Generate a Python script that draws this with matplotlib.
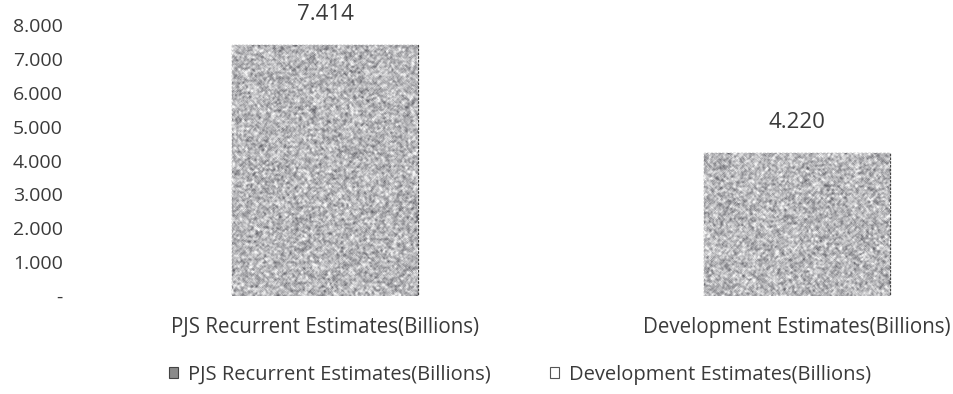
import numpy as np
import matplotlib
matplotlib.use('Agg')
import matplotlib.pyplot as plt
from matplotlib.patches import Patch
from matplotlib.colors import LinearSegmentedColormap

plt.rcParams['font.family'] = ['Open Sans', 'DejaVu Sans']

categories = ['PJS Recurrent Estimates(Billions)', 'Development Estimates(Billions)']
values = [7.414, 4.220]
value_labels = ['7.414', '4.220']
y_ticks = [0, 1, 2, 3, 4, 5, 6, 7, 8]
y_tick_labels = ['-', '1.000', '2.000', '3.000', '4.000', '5.000', '6.000', '7.000', '8.000']

text_col = '#3a3a3a'

fig = plt.figure(figsize=(9.54, 3.94), dpi=100)
ax = fig.add_axes([89 / 954, (394 - 296) / 394, 1 - 89 / 954, (296 - 25) / 394])

x = np.arange(len(categories))
bars = ax.bar(x, values, width=0.392, color='#a8a8ad', edgecolor='#454545',
              linewidth=0.9, linestyle=(0, (2, 1)), zorder=2)


def smooth(a):
    # 3x3 box average to soften the grain
    p = np.pad(a, 1, mode='edge')
    out = np.zeros_like(a)
    for dy in range(3):
        for dx in range(3):
            out += p[dy:dy + a.shape[0], dx:dx + a.shape[1]]
    return out / 9


grain_cmap = LinearSegmentedColormap.from_list('grain', ['#4e4e55', '#ffffff'])

# grainy grey fill inside each bar
rng = np.random.default_rng(7)
for b in bars:
    h_px = int(b.get_height() * 34)
    raw = rng.normal(0.0, 1.0, size=(h_px, 186))
    grain = 0.65 * smooth(raw) / smooth(raw).std() + 0.35 * raw
    grain = 0.6 + 0.13 * grain / grain.std()
    grain = np.clip(grain, 0.15, 0.95)
    x0, y0 = b.get_x(), b.get_y()
    im = ax.imshow(grain, cmap=grain_cmap, vmin=0, vmax=1, aspect='auto',
                   extent=(x0, x0 + b.get_width(), y0, y0 + b.get_height()),
                   interpolation='bilinear', zorder=2.5)
    im.set_clip_path(b)

for b, lab in zip(bars, value_labels):
    ax.annotate(lab, (b.get_x() + b.get_width() / 2, b.get_height()),
                xytext=(0, 22), textcoords='offset points',
                ha='center', va='center', fontsize=16, color=text_col,
                annotation_clip=False)

ax.set_xlim(-0.5, 1 + (954 - 797) / 472)
ax.set_ylim(0, 8)
ax.set_yticks(y_ticks)
ax.set_yticklabels(y_tick_labels)
ax.set_xticks(x)
ax.set_xticklabels(categories)
ax.tick_params(axis='y', length=0, pad=19, labelsize=14, labelcolor=text_col)
ax.tick_params(axis='x', length=0, pad=15, labelsize=14.8, labelcolor=text_col)
for s in ax.spines.values():
    s.set_visible(False)

handles = [Patch(facecolor='#8a8a8a', edgecolor='#444444', linewidth=0.8),
           Patch(facecolor='white', edgecolor='#555555', linewidth=0.8)]
fig.legend(handles, categories, loc='center', bbox_to_anchor=(520 / 954, 1 - 375 / 394),
           ncol=2, frameon=False, fontsize=14.5, labelcolor=text_col,
           handlelength=0.45, handleheight=0.45, handletextpad=0.5, columnspacing=2.9)

fig.savefig('out.png', dpi=100)
